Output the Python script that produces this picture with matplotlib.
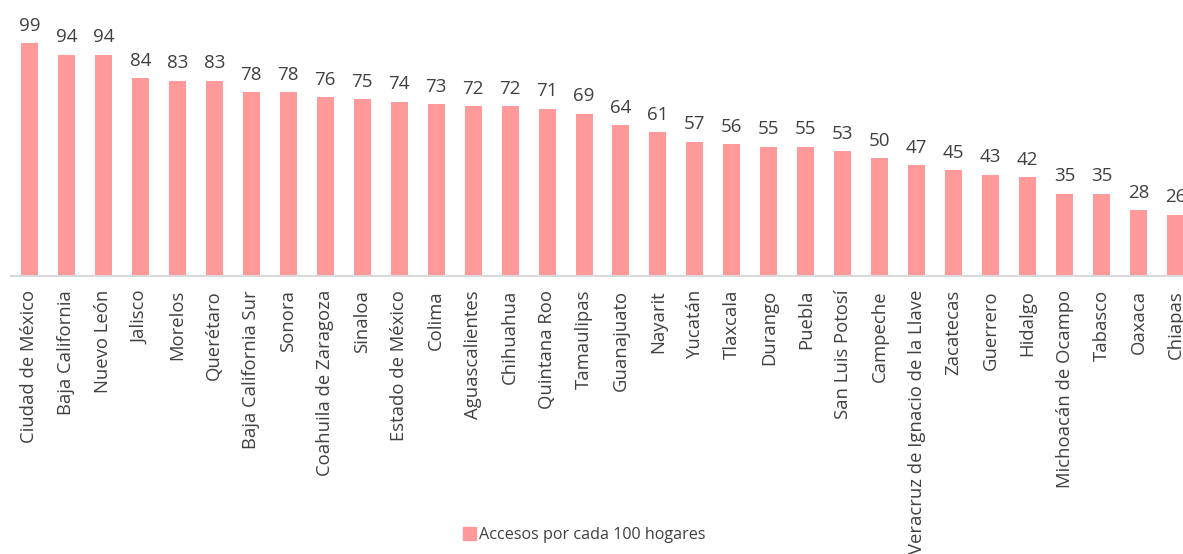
import matplotlib
matplotlib.use("Agg")
import matplotlib.pyplot as plt
from matplotlib.patches import Patch

# ===== DATA =====
estados = [
    "Ciudad de México", "Baja California", "Nuevo León", "Jalisco", "Morelos",
    "Querétaro", "Baja California Sur", "Sonora", "Coahuila de Zaragoza", "Sinaloa",
    "Estado de México", "Colima", "Aguascalientes", "Chihuahua", "Quintana Roo",
    "Tamaulipas", "Guanajuato", "Nayarit", "Yucatán", "Tlaxcala", "Durango",
    "Puebla", "San Luis Potosí", "Campeche", "Veracruz de Ignacio de la Llave",
    "Zacatecas", "Guerrero", "Hidalgo", "Michoacán de Ocampo", "Tabasco",
    "Oaxaca", "Chiapas",
]
accesos = [99, 94, 94, 84, 83, 83, 78, 78, 76, 75, 74, 73, 72, 72, 71, 69,
           64, 61, 57, 56, 55, 55, 53, 50, 47, 45, 43, 42, 35, 35, 28, 26]
serie = "Accesos por cada 100 hogares"

# ===== STYLE =====
plt.rcParams["font.family"] = ["Open Sans", "DejaVu Sans"]
bar_color = "#FF999A"
text_color = "#404040"

W, H = 1183, 554
fig = plt.figure(figsize=(W / 100, H / 100), dpi=100)

# axes extends past the right edge (last bar is clipped in the original)
ax_left, ax_bottom = 11 / W, (H - 276) / H
ax = fig.add_axes([ax_left, ax_bottom, 1183 / W, 259 / H])

x = range(len(estados))
bars = ax.bar(x, accesos, width=0.46, color=bar_color, zorder=2)

for xi, v in zip(x, accesos):
    ax.annotate(f"{v}", (xi, v), xytext=(0, 6), textcoords="offset points",
                ha="center", va="bottom", fontsize=13.5, color=text_color)

ax.set_xlim(-0.5, len(estados) - 0.5)
ax.set_ylim(0, 110)
ax.set_xticks(list(x))
ax.set_xticklabels(estados, rotation=90, fontsize=13.3, color=text_color)
ax.tick_params(axis="x", length=0, pad=10)
ax.set_yticks([])

for s in ["top", "right", "left"]:
    ax.spines[s].set_visible(False)
ax.spines["bottom"].set_color("#D9D9D9")
ax.spines["bottom"].set_linewidth(1.5)

fig.legend(handles=[Patch(color=bar_color, label=serie)], loc="center",
           bbox_to_anchor=(584 / W, 1 - 535 / H), frameon=False, fontsize=11.6,
           handlelength=0.8, handleheight=0.8, handletextpad=0.2,
           labelcolor=text_color)

plt.savefig("out.png", dpi=100)
plt.close()
